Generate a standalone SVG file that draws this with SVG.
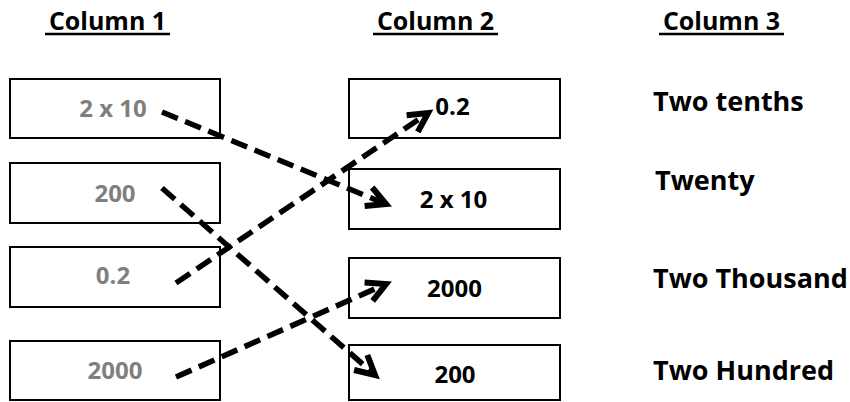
<svg xmlns="http://www.w3.org/2000/svg" width="850" height="402" viewBox="0 0 850 402">
<style>
  .box { fill: #ffffff; stroke: #000000; stroke-width: 2; }
  .t { font-family: "Open Sans", Lato, "Liberation Sans", sans-serif; font-weight: bold; font-size: 24px; }
  .hdr { fill: #000000; font-size: 25px; }
  .gray { fill: #7f7f7f; }
  .blk { fill: #000000; }
  .c3 { font-size: 27px; }
  .ul { stroke: #000000; stroke-width: 2.5; }
  .conn { fill: none; stroke: #000000; stroke-width: 5.5; stroke-dasharray: 17 8; }
  .head { fill: none; stroke: #000000; stroke-width: 6; stroke-linejoin: miter; stroke-linecap: butt; }
</style>
<defs>
  <marker id="arrow" markerUnits="userSpaceOnUse" markerWidth="40" markerHeight="40" viewBox="-30 -20 40 40" refX="0" refY="0" orient="auto" overflow="visible">
    <path class="head" d="M -19,-10 L 0,0 L -19,10"/>
  </marker>
</defs>

<g id="headers">
  <text class="t hdr" x="107.5" y="30" text-anchor="middle">Column 1</text>
  <line class="ul" x1="45" y1="34" x2="170" y2="34"/>
  <text class="t hdr" x="435.5" y="30" text-anchor="middle">Column 2</text>
  <line class="ul" x1="373" y1="34" x2="498" y2="34"/>
  <text class="t hdr" x="721.5" y="30" text-anchor="middle">Column 3</text>
  <line class="ul" x1="659" y1="34" x2="784" y2="34"/>
</g>

<g id="c1-1"><rect class="box" x="10" y="79" width="210" height="59"/><text class="t gray" x="113" y="117" text-anchor="middle">2 x 10</text></g>
<g id="c1-2"><rect class="box" x="10" y="163" width="210" height="60"/><text class="t gray" x="115" y="202" text-anchor="middle">200</text></g>
<g id="c1-3"><rect class="box" x="10" y="247" width="210" height="60"/><text class="t gray" x="113" y="284" text-anchor="middle">0.2</text></g>
<g id="c1-4"><rect class="box" x="10" y="341" width="210" height="59"/><text class="t gray" x="115" y="379" text-anchor="middle">2000</text></g>

<g id="c2-1"><rect class="box" x="349" y="79" width="211" height="59"/><text class="t blk" x="452.5" y="115" text-anchor="middle">0.2</text></g>
<g id="c2-2"><rect class="box" x="349" y="169" width="211" height="60"/><text class="t blk" x="453.5" y="208" text-anchor="middle">2 x 10</text></g>
<g id="c2-3"><rect class="box" x="349" y="258" width="211" height="60"/><text class="t blk" x="454.5" y="297" text-anchor="middle">2000</text></g>
<g id="c2-4"><rect class="box" x="349" y="345" width="211" height="55"/><text class="t blk" x="455" y="383" text-anchor="middle">200</text></g>

<g id="c3-1"><text class="t c3 blk" x="653" y="111">Two tenths</text></g>
<g id="c3-2"><text class="t c3 blk" x="655" y="190">Twenty</text></g>
<g id="c3-3"><text class="t c3 blk" x="653" y="288">Two Thousand</text></g>
<g id="c3-4"><text class="t c3 blk" x="653" y="380">Two Hundred</text></g>

<g id="connectors">
  <path class="conn" d="M 162,112 L 386,204" marker-end="url(#arrow)"/>
  <path class="conn" d="M 162,188 L 375,375" marker-end="url(#arrow)"/>
  <path class="conn" d="M 176,283 L 428,113" marker-end="url(#arrow)"/>
  <path class="conn" d="M 176,377 L 386,284" marker-end="url(#arrow)"/>
</g>
</svg>
